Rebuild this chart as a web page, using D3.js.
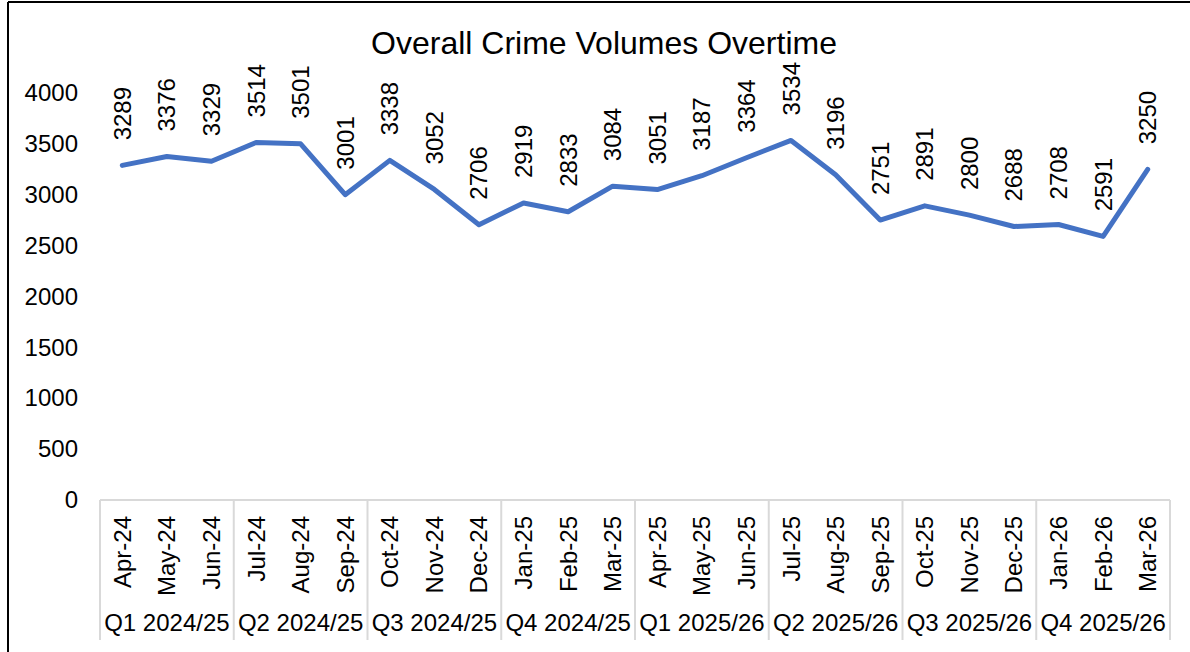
<!DOCTYPE html>
<html>
<head>
<meta charset="utf-8">
<script src="https://cdn.jsdelivr.net/npm/d3@7"></script>
<style>
  body { margin: 0; background: #fff; }
  svg { display: block; font-family: "Liberation Sans", Arial, sans-serif; }
</style>
</head>
<body>
<svg id="chart"></svg>
<script>
const months = ["Apr-24","May-24","Jun-24","Jul-24","Aug-24","Sep-24","Oct-24","Nov-24","Dec-24",
    "Jan-25","Feb-25","Mar-25","Apr-25","May-25","Jun-25","Jul-25","Aug-25","Sep-25",
    "Oct-25","Nov-25","Dec-25","Jan-26","Feb-26","Mar-26"];
const volumes = [3289, 3376, 3329, 3514, 3501, 3001, 3338, 3052, 2706,
    2919, 2833, 3084, 3051, 3187, 3364, 3534, 3196, 2751,
    2891, 2800, 2688, 2708, 2591, 3250];
const quarters = ["Q1 2024/25","Q2 2024/25","Q3 2024/25","Q4 2024/25",
    "Q1 2025/26","Q2 2025/26","Q3 2025/26","Q4 2025/26"];
const yTicks = [0, 500, 1000, 1500, 2000, 2500, 3000, 3500, 4000];

const width = 1190, height = 652;
const plot = { left: 100, right: 1170, top: 93, bottom: 500 };
const fontSize = 24;

const svg = d3.select("#chart").attr("width", width).attr("height", height);

// frame (only top and left edges visible in the screenshot)
svg.append("line").attr("x1", 8).attr("y1", 2).attr("x2", width).attr("y2", 2)
    .attr("stroke", "#000").attr("stroke-width", 2);
svg.append("line").attr("x1", 8).attr("y1", 2).attr("x2", 8).attr("y2", height)
    .attr("stroke", "#000").attr("stroke-width", 2);

svg.append("text")
    .attr("x", 604).attr("y", 43)
    .attr("text-anchor", "middle").attr("dominant-baseline", "central")
    .attr("font-size", 32).attr("fill", "#000")
    .text("Overall Crime Volumes Overtime");

const x = d3.scaleBand().domain(months).range([plot.left, plot.right]).padding(0);
const y = d3.scaleLinear().domain([0, 4000]).range([plot.bottom, plot.top]);
const cx = d => x(d) + x.bandwidth() / 2;

// y axis labels
const yAxis = svg.append("g")
    .attr("transform", `translate(${plot.left}, 0)`)
    .call(d3.axisLeft(y).tickValues(yTicks).tickFormat(d3.format("d")).tickSize(0).tickPadding(22));
yAxis.select(".domain").remove();
yAxis.selectAll("text").attr("font-size", fontSize).attr("fill", "#000")
    .attr("font-family", "Liberation Sans, Arial, sans-serif");

// category axis
const axisColor = "#d9d9d9";
svg.append("line")
    .attr("x1", plot.left).attr("x2", plot.right)
    .attr("y1", plot.bottom).attr("y2", plot.bottom)
    .attr("stroke", axisColor).attr("stroke-width", 2);

const groupEdges = d3.range(0, months.length + 1, 3)
    .map(i => i < months.length ? x(months[i]) : plot.right);
svg.selectAll(".sep")
    .data(groupEdges)
    .join("line")
    .attr("class", "sep")
    .attr("x1", d => d).attr("x2", d => d)
    .attr("y1", plot.bottom).attr("y2", 640)
    .attr("stroke", axisColor).attr("stroke-width", 2);

svg.selectAll(".month")
    .data(months)
    .join("text")
    .attr("class", "month")
    .attr("transform", d => `translate(${cx(d)}, 516) rotate(-90)`)
    .attr("text-anchor", "end").attr("dominant-baseline", "central")
    .attr("font-size", fontSize).attr("fill", "#000")
    .text(d => d);

svg.selectAll(".quarter")
    .data(quarters)
    .join("text")
    .attr("class", "quarter")
    .attr("x", (d, i) => (groupEdges[i] + groupEdges[i + 1]) / 2)
    .attr("y", 622)
    .attr("text-anchor", "middle").attr("dominant-baseline", "central")
    .attr("font-size", fontSize).attr("fill", "#000")
    .text(d => d);

// series
const line = d3.line().x((d, i) => cx(months[i])).y(d => y(d));
svg.append("path")
    .datum(volumes)
    .attr("d", line)
    .attr("fill", "none")
    .attr("stroke", "#4472C4")
    .attr("stroke-width", 5)
    .attr("stroke-linejoin", "round")
    .attr("stroke-linecap", "round");

svg.selectAll(".val")
    .data(volumes)
    .join("text")
    .attr("class", "val")
    .attr("transform", (d, i) => `translate(${cx(months[i])}, ${y(d) - 25}) rotate(-90)`)
    .attr("text-anchor", "start").attr("dominant-baseline", "central")
    .attr("font-size", fontSize).attr("fill", "#000")
    .text(d => d);
</script>
</body>
</html>
